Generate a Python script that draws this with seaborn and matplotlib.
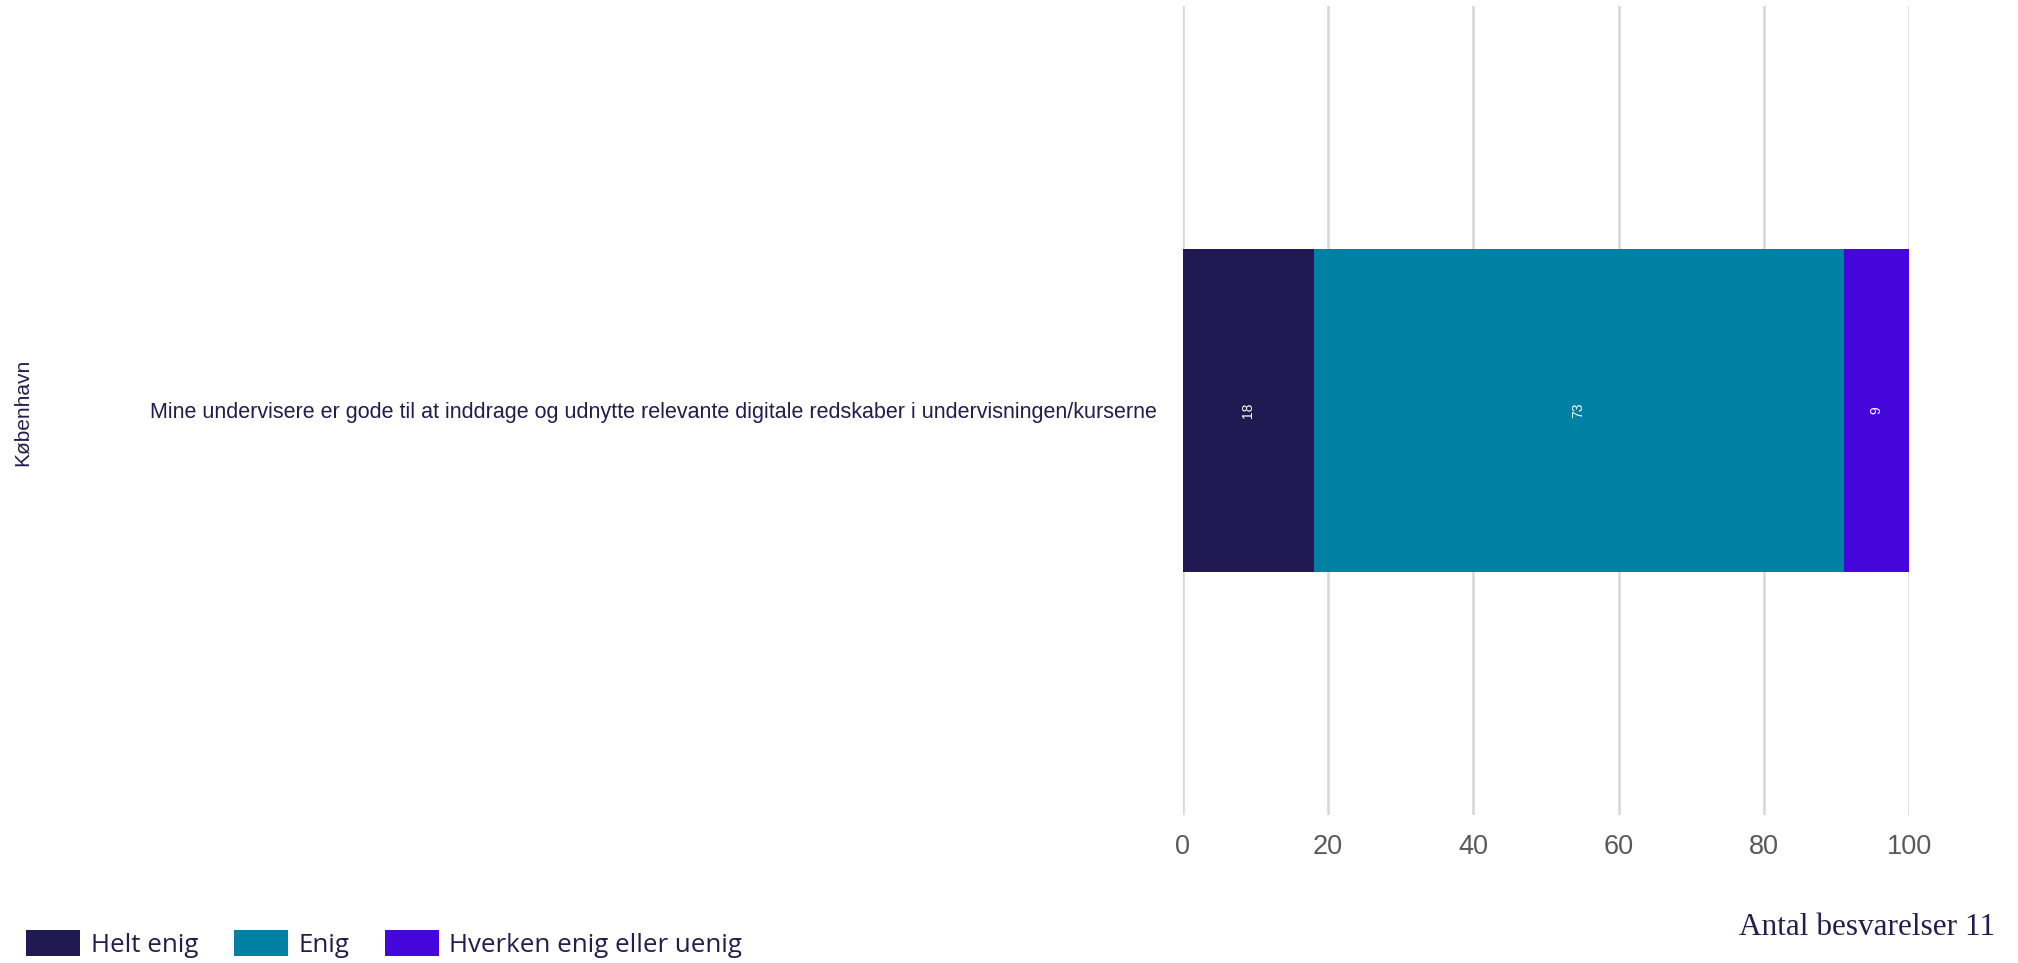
#Import packages
import pandas as pd
import matplotlib.pyplot as plt
import seaborn as sns
from matplotlib.patches import Patch

#Data
question = "Mine undervisere er gode til at inddrage og udnytte relevante digitale redskaber i undervisningen/kurserne"
group = "København"
answers = ["Helt enig", "Enig", "Hverken enig eller uenig"]
values = [18, 73, 9]
colors = ["#211951", "#0081A3", "#4406DB"]
n_answers = 11

navy = "#231C4F"

df = pd.DataFrame({"answer": answers, "value": values, "question": question})
df["cum"] = df["value"].cumsum() #Right edge of each stacked segment
df["start"] = df["cum"] - df["value"]

sns.set_style("white")
plt.rcParams['font.family'] = ['Liberation Sans', 'DejaVu Sans']

fig = plt.figure(figsize=(20.18, 9.63), dpi=100)
ax = fig.add_axes([0.5862, 0.1537, 0.3598, 0.8401])

#Stacked bar: draw the cumulative totals from largest to smallest
for i in reversed(range(len(df))):
    sns.barplot(x=[df["cum"][i]], y=[question], color=colors[i], orient='h',
                width=0.4, saturation=1, linewidth=0, edgecolor='none', ax=ax, zorder=2)

#Value labels in the middle of each segment
for i in range(len(df)):
    ax.text(df["start"][i] + df["value"][i] / 2, 0, str(df["value"][i]),
            rotation=90, ha='center', va='center', color='white', fontsize=10, zorder=3)

ax.set_xlim(0, 100)
ax.set_ylim(0.5, -0.5)
ax.set_xticks([0, 20, 40, 60, 80, 100])
ax.grid(axis='x', color='#D6D6D6', linewidth=1.8)
ax.set_axisbelow(True)
sns.despine(ax=ax, left=True, bottom=True)
ax.tick_params(axis='x', length=0, pad=13.5, labelsize=19.5, labelcolor='#595959')
ax.tick_params(axis='y', length=0, pad=19, labelsize=15.5, labelcolor=navy)
ax.set_xlabel("")
ax.set_ylabel("")

#Group label at far left
fig.text(23 / 2018, 1 - 412 / 963, group, rotation=90, ha='center', va='center',
         fontsize=15, color=navy)

#Legend
handles = [Patch(facecolor=c, edgecolor='none') for c in colors]
leg = fig.legend(handles, answers, loc='center left', bbox_to_anchor=(26 / 2018, 1 - 944 / 963),
                 ncol=3, frameon=False, borderpad=0, borderaxespad=0, handlelength=2.1,
                 handleheight=1.16, handletextpad=0.4, columnspacing=1.38,
                 prop={'family': ['Open Sans', 'DejaVu Sans'], 'size': 18.6})
for t in leg.get_texts():
    t.set_color(navy)

#Number of answers
fig.text(1995 / 2018, 1 - 927 / 963, "Antal besvarelser " + str(n_answers), ha='right', va='center',
         fontsize=22.5, color=navy, family=['Liberation Serif', 'DejaVu Serif'])

plt.savefig('out.png', dpi=100)
